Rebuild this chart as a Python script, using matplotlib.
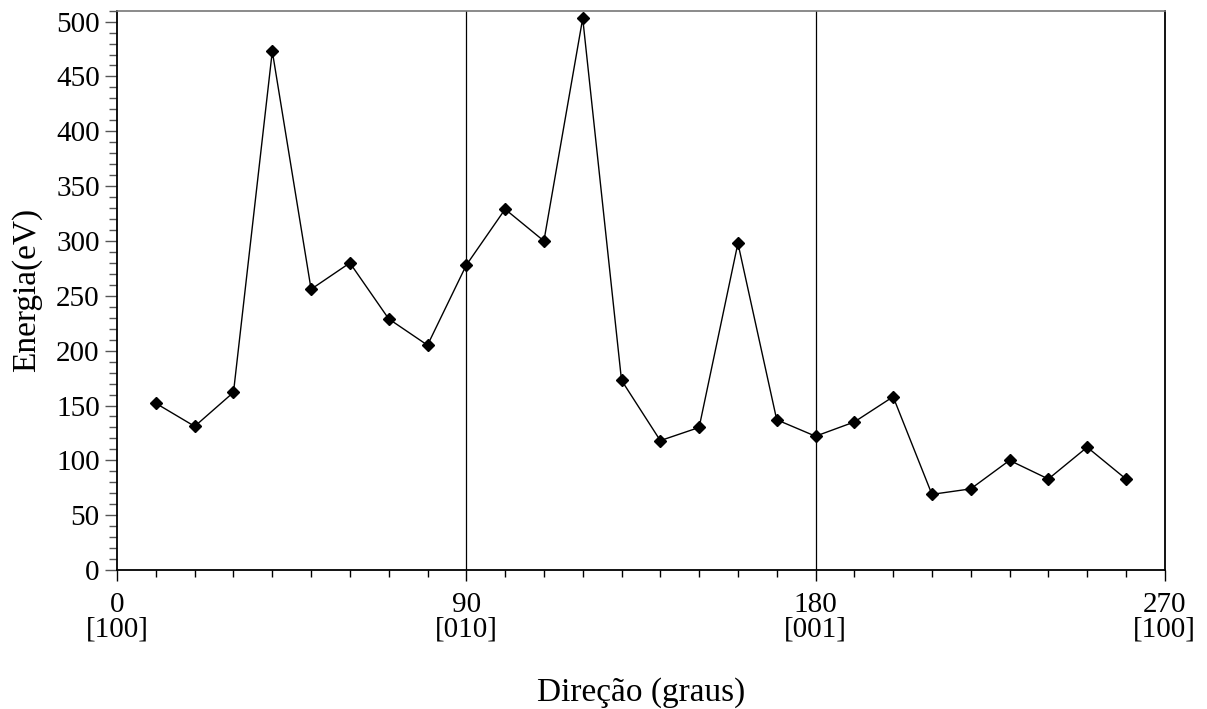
import matplotlib.pyplot as plt
from matplotlib.ticker import MultipleLocator

plt.rcParams['font.family'] = ['Liberation Serif', 'DejaVu Serif']

direcao = [10, 20, 30, 40, 50, 60, 70, 80, 90, 100, 110, 120, 130,
           140, 150, 160, 170, 180, 190, 200, 210, 220, 230, 240, 250, 260]
energia = [152, 131, 162, 473, 256, 280, 229, 205, 278, 329, 300, 503, 173,
           118, 130, 298, 137, 122, 135, 158, 69, 74, 100, 83, 112, 83]

tick_pos = [0, 90, 180, 270]
tick_labels = ["0\n[100]", "90\n[010]", "180\n[001]", "270\n[100]"]
linhas = [90, 180]

fig = plt.figure(figsize=(12.07, 7.09), dpi=100)
ax = fig.add_axes([0.097, 0.196, 0.868, 0.789])

for xv in linhas:
    ax.axvline(xv, color='black', linewidth=0.9, zorder=1)

ax.plot(direcao, energia, color='black', linewidth=1.0, marker='D',
        markersize=6.2, markerfacecolor='black', markeredgecolor='black', zorder=3)

ax.set_xlim(0, 270)
ax.set_ylim(0, 510)

ax.set_xticks(tick_pos)
ax.set_xticklabels(tick_labels, fontsize=21, linespacing=0.92)
ax.xaxis.set_minor_locator(MultipleLocator(10))
ax.yaxis.set_major_locator(MultipleLocator(50))
ax.yaxis.set_minor_locator(MultipleLocator(10))
ax.tick_params(axis='y', which='major', direction='out', length=8.5, width=1.0,
               labelsize=21, color='#555555', pad=4)
ax.tick_params(axis='y', which='minor', direction='out', length=6, width=1.0,
               color='#555555')
ax.tick_params(axis='x', which='major', direction='out', length=8, width=1.0, pad=8)
ax.tick_params(axis='x', which='minor', direction='out', length=5, width=1.0)

ax.spines['top'].set_color('#777777')
ax.spines['top'].set_linewidth(1.2)
ax.spines['left'].set_linewidth(1.3)
ax.spines['bottom'].set_linewidth(1.3)
ax.spines['right'].set_linewidth(1.3)

ax.set_ylabel("Energia(eV)", fontsize=24, labelpad=10)
ax.set_xlabel("Direção (graus)", fontsize=24, labelpad=25)

fig.savefig("out.png", dpi=100)
